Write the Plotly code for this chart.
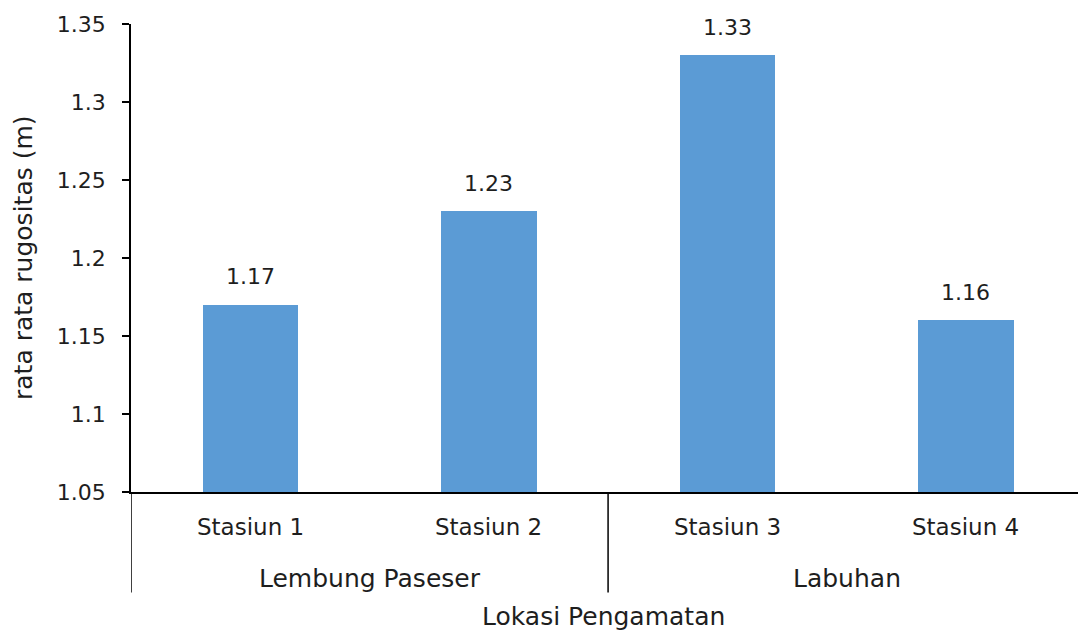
import plotly.graph_objects as go

# Station labels, their location groups, and mean rugosity values (m)
stations = ["Stasiun 1", "Stasiun 2", "Stasiun 3", "Stasiun 4"]
locations = ["Lembung Paseser", "Lembung Paseser", "Labuhan", "Labuhan"]
rugosity = [1.17, 1.23, 1.33, 1.16]
value_labels = ["1.17", "1.23", "1.33", "1.16"]

y_ticks = [1.05, 1.1, 1.15, 1.2, 1.25, 1.3, 1.35]
y_tick_text = ["1.05", "1.1", "1.15", "1.2", "1.25", "1.3", "1.35"]

FONT = "DejaVu Sans"
TXT = "#1e1e1e"
BAR = "#5B9BD5"
NUM_SIZE = 22
WORD_SIZE = 23
GROUP_SIZE = 25
TITLE_SIZE = 25

x_pos = list(range(len(stations)))

fig = go.Figure()
fig.add_trace(go.Bar(
    x=x_pos, y=[v - 1.05 for v in rugosity], base=1.05,
    width=0.4, marker=dict(color=BAR, line=dict(width=0)),
    hoverinfo="skip", showlegend=False,
))

annotations = []
# value labels above the bars
for xi, v, t in zip(x_pos, rugosity, value_labels):
    annotations.append(dict(x=xi, y=v, xref="x", yref="y", text=t, showarrow=False,
                            yanchor="middle", yshift=28,
                            font=dict(family=FONT, size=NUM_SIZE, color=TXT)))
# station tick labels
for xi, s in zip(x_pos, stations):
    annotations.append(dict(x=xi, y=0, xref="x", yref="paper", text=s, showarrow=False,
                            yanchor="middle", yshift=-35,
                            font=dict(family=FONT, size=WORD_SIZE, color=TXT)))

# group labels and separators derived from the location list
groups = []
for i, loc in enumerate(locations):
    if groups and groups[-1][0] == loc:
        groups[-1][2] = i
    else:
        groups.append([loc, i, i])

shapes = []
line_style = dict(color="black", width=1.5)
for loc, start, end in groups:
    annotations.append(dict(x=(start + end) / 2, y=0, xref="x", yref="paper", text=loc,
                            showarrow=False, yanchor="middle", yshift=-86,
                            font=dict(family=FONT, size=GROUP_SIZE, color=TXT)))
    shapes.append(dict(type="line", xref="x", yref="paper", x0=start - 0.5, x1=start - 0.5,
                       y0=0, y1=-0.215, line=line_style))

# axis titles
annotations.append(dict(x=0.5, y=0, xref="paper", yref="paper", text="Lokasi Pengamatan",
                        showarrow=False, yanchor="middle", yshift=-124, xshift=-1,
                        font=dict(family=FONT, size=TITLE_SIZE, color=TXT)))
annotations.append(dict(x=0, y=0.5, xref="paper", yref="paper", text="rata rata rugositas (m)",
                        showarrow=False, textangle=-90, xanchor="center", yanchor="middle",
                        xshift=-108,
                        font=dict(family=FONT, size=TITLE_SIZE, color=TXT)))

fig.update_layout(
    width=1078, height=630,
    margin=dict(l=131, r=0, t=24, b=138),
    paper_bgcolor="white", plot_bgcolor="white",
    annotations=annotations, shapes=shapes,
    bargap=0,
    xaxis=dict(range=[-0.5, 3.47], showticklabels=False, showgrid=False, zeroline=False,
               showline=True, linecolor="black", linewidth=1.5, ticks=""),
    yaxis=dict(range=[1.05, 1.35], tickvals=y_ticks, ticktext=y_tick_text,
               showgrid=False, zeroline=False, showline=True, linecolor="black", linewidth=1.5,
               ticks="outside", ticklen=7, tickcolor="black", tickwidth=1.5,
               ticklabelstandoff=12,
               tickfont=dict(family=FONT, size=NUM_SIZE, color=TXT)),
)

fig.write_html("out.html")
